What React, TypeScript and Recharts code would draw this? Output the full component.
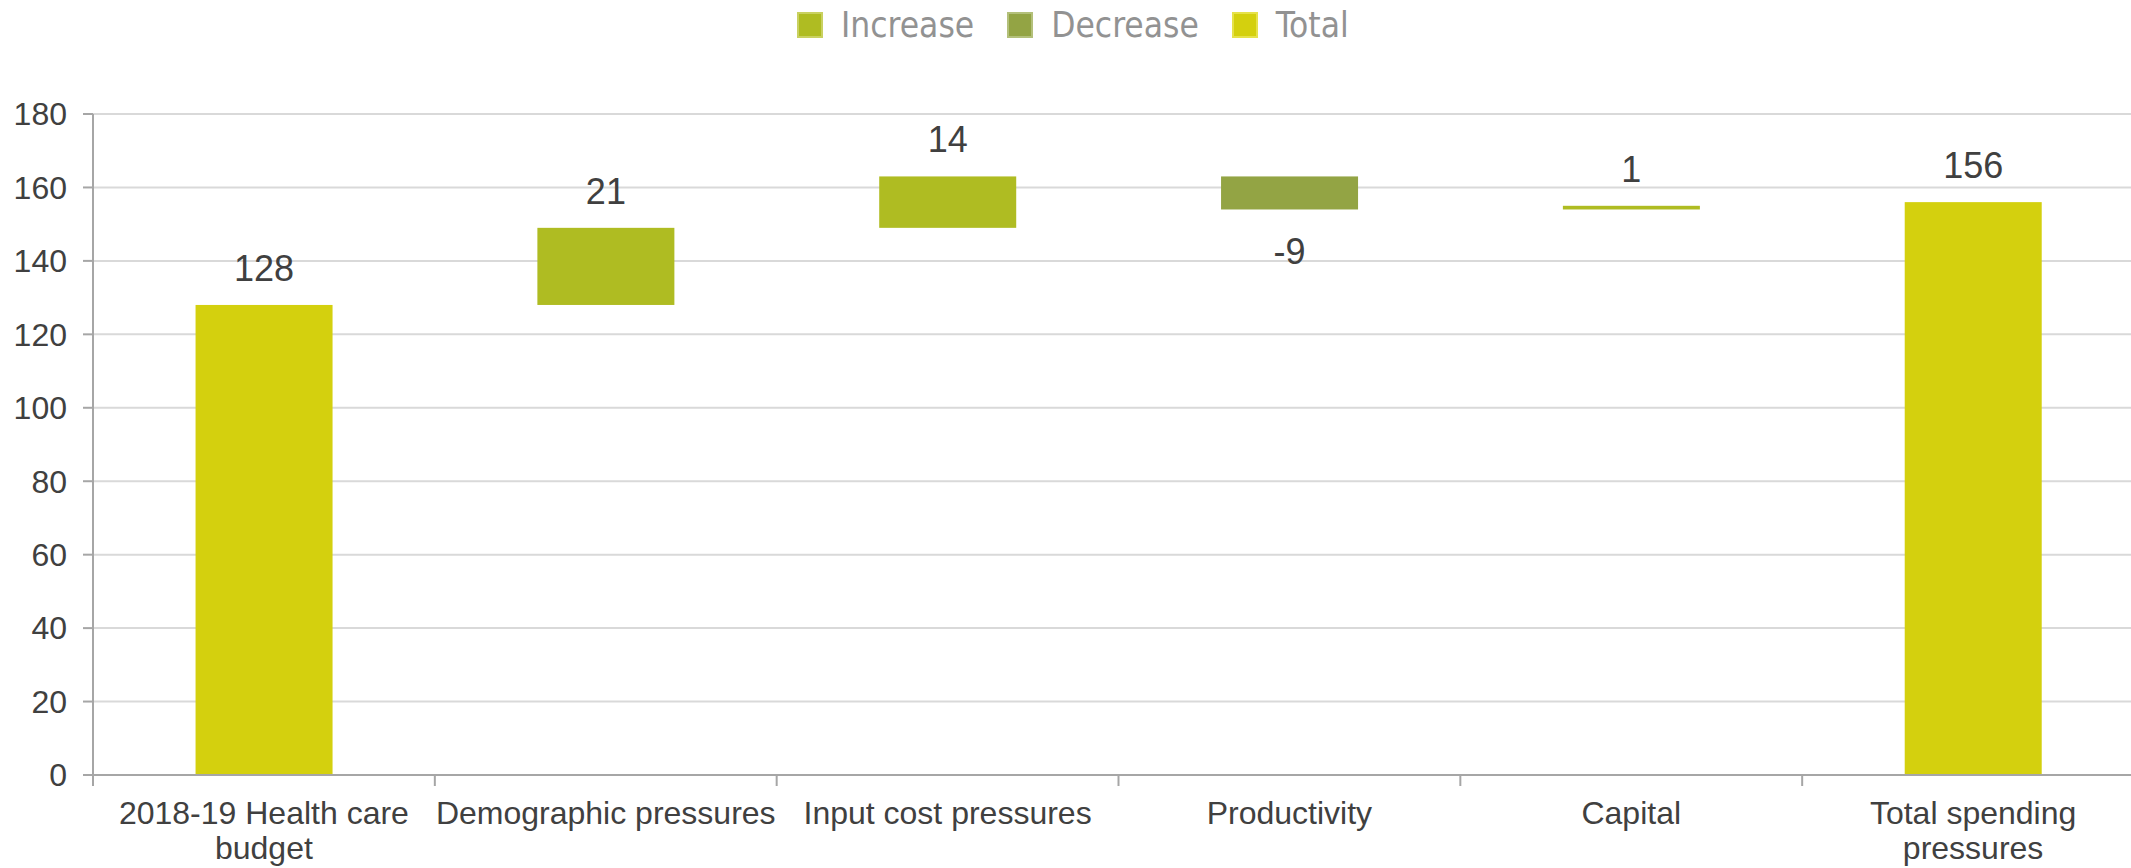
import React from 'react';
import { BarChart, Bar, XAxis, YAxis, CartesianGrid } from 'recharts';

const categories = [
  '2018-19 Health care budget',
  'Demographic pressures',
  'Input cost pressures',
  'Productivity',
  'Capital',
  'Total spending pressures',
];
const tickLines = [
  ['2018-19 Health care', 'budget'],
  ['Demographic pressures'],
  ['Input cost pressures'],
  ['Productivity'],
  ['Capital'],
  ['Total spending', 'pressures'],
];
const changes = [128, 21, 14, -9, 1, 156];
const kinds = ['total', 'increase', 'increase', 'decrease', 'increase', 'total'];
const yTicks = [0, 20, 40, 60, 80, 100, 120, 140, 160, 180];
const seriesKeys = ['increase', 'decrease', 'total'];
const seriesNames = ['Increase', 'Decrease', 'Total'];
const seriesColors = ['#AFBC22', '#93A444', '#D4D00E'];
const legendBorders = ['#C9D160', '#B3C07A', '#E6E24A'];

type Row = {
  name: string;
  base: number | null;
  increase: number | null;
  decrease: number | null;
  total: number | null;
  label: number;
  kind: string;
};

const buildRows = (): Row[] => {
  let running = 0;
  return categories.map((name, i) => {
    const v = changes[i];
    const k = kinds[i];
    const row: Row = { name, base: null, increase: null, decrease: null, total: null, label: v, kind: k };
    if (k === 'total') {
      row.base = 0;
      row.total = v;
      running = v;
    } else if (k === 'increase') {
      row.base = running;
      row.increase = v;
      running += v;
    } else {
      running += v;
      row.base = running;
      row.decrease = -v;
    }
    return row;
  });
};
const rows = buildRows();

const FONT = "'Liberation Sans', Arial, Helvetica, sans-serif";
const TEXT = '#404040';

const makeShape = (kind: string, color: string) => (props: any) => {
  const { x, y, width, height, payload } = props;
  if (!payload || payload.kind !== kind || width == null) return <g />;
  const cx = x + width / 2;
  const isDec = kind === 'decrease';
  const labelY = isDec ? y + height + 55 : y - 24;
  return (
    <g>
      <rect x={x} y={y} width={width} height={Math.max(height, 0)} fill={color} />
      <text x={cx} y={labelY} textAnchor="middle" fontSize={36} fontFamily={FONT} fill={TEXT}>
        {String(payload.label)}
      </text>
    </g>
  );
};

const XTick = (props: any) => {
  const { x, y, payload } = props;
  const idx = categories.indexOf(payload.value);
  const lines = idx >= 0 ? tickLines[idx] : [String(payload.value)];
  const half = payload && typeof payload.offset === 'number' && payload.offset > 0 ? payload.offset : 171;
  return (
    <g>
      <line x1={x - half} x2={x - half} y1={y} y2={y + 11} stroke="#A6A6A6" strokeWidth={2} />
      {idx === categories.length - 1 && (
        <line x1={x + half} x2={x + half} y1={y} y2={y + 11} stroke="#A6A6A6" strokeWidth={2} />
      )}
      <text x={x} y={y + 49} textAnchor="middle" fontSize={32} fontFamily={FONT} fill={TEXT}>
        {lines.map((l, i) => (
          <tspan key={i} x={x} dy={i === 0 ? 0 : 35}>
            {l}
          </tspan>
        ))}
      </text>
    </g>
  );
};

export default function App() {
  return (
    <div
      style={{
        position: 'absolute',
        left: 0,
        top: 0,
        width: 2131,
        height: 868,
        overflow: 'hidden',
        background: '#ffffff',
      }}
    >
      <div
        style={{
          position: 'absolute',
          left: 797,
          top: 0,
          height: 50,
          display: 'flex',
          alignItems: 'center',
          whiteSpace: 'nowrap',
          fontFamily: "'DejaVu Sans Condensed', 'DejaVu Sans', sans-serif",
          fontStretch: 'condensed',
          fontSize: 35,
          color: '#929292',
        }}
      >
        {seriesNames.map((n, i) => (
          <div key={n} style={{ display: 'flex', alignItems: 'center', marginRight: 33 }}>
            <div
              style={{
                width: 22,
                height: 22,
                background: seriesColors[i],
                border: `2px solid ${legendBorders[i]}`,
                marginRight: 18,
              }}
            />
            <span>{n}</span>
          </div>
        ))}
      </div>
      <BarChart
        width={2150}
        height={868}
        data={rows}
        margin={{ top: 114, right: 6, bottom: 0, left: 0 }}
        barCategoryGap="30%"
      >
        <CartesianGrid vertical={false} stroke="#D9D9D9" strokeWidth={2} />
        <XAxis
          dataKey="name"
          type="category"
          height={93}
          axisLine={{ stroke: '#A6A6A6', strokeWidth: 2 }}
          tickLine={false}
          tickSize={0}
          tickMargin={0}
          interval={0}
          tick={<XTick />}
        />
        <YAxis
          type="number"
          domain={[0, 180]}
          ticks={yTicks}
          width={93}
          axisLine={{ stroke: '#A6A6A6', strokeWidth: 2 }}
          tickLine={{ stroke: '#A6A6A6', strokeWidth: 2 }}
          tickSize={10}
          tickMargin={16}
          tick={{ fontSize: 32, fontFamily: FONT, fill: TEXT }}
          interval={0}
        />
        <Bar dataKey="base" stackId="w" fill="transparent" legendType="none" isAnimationActive={false} />
        {seriesKeys.map((k, i) => (
          <Bar
            key={k}
            dataKey={k}
            name={seriesNames[i]}
            stackId="w"
            fill={seriesColors[i]}
            isAnimationActive={false}
            shape={makeShape(k, seriesColors[i])}
          />
        ))}
      </BarChart>
    </div>
  );
}
